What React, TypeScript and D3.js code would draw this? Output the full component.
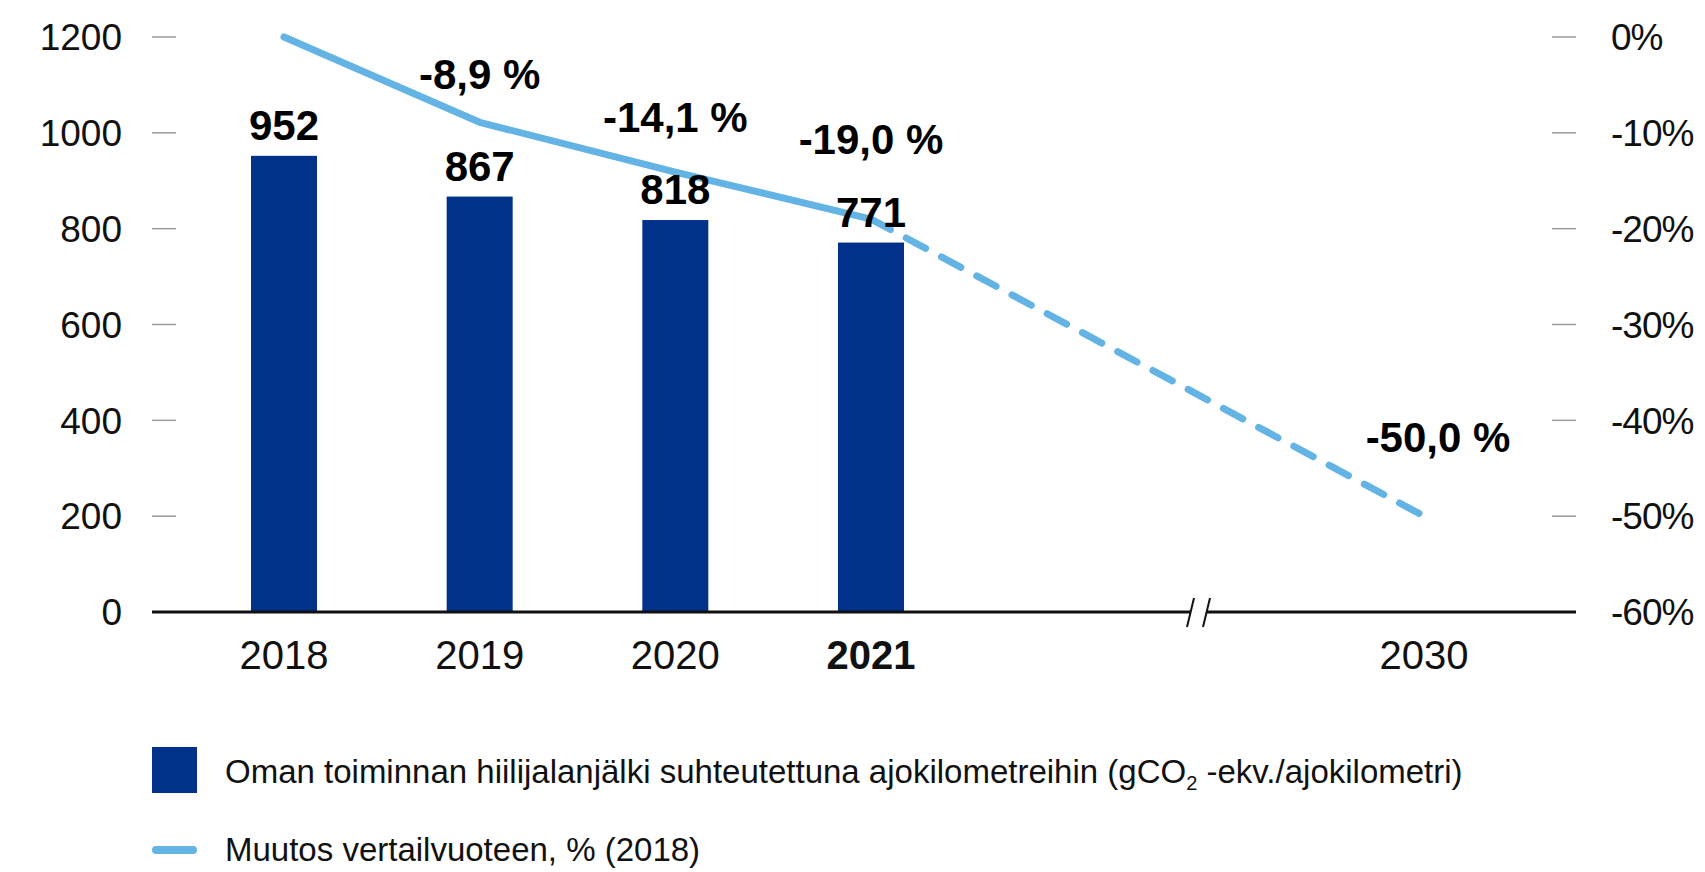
import React from 'react';
import * as d3 from 'd3';

// bars: own-operations carbon footprint per driven km
const barYears = [2018, 2019, 2020, 2021];
const footprint = [952, 867, 818, 771];

// line: change vs. base year 2018 (2030 is the target)
const changeYears = [2018, 2019, 2020, 2021, 2030];
const changePct = [0, -8.9, -14.1, -19.0, -50.0];
const xTickYears = [2018, 2019, 2020, 2021, 2030];

const leftTicks = [0, 200, 400, 600, 800, 1000, 1200];
const rightTicks = [0, -10, -20, -30, -40, -50, -60];

// nudge for the % labels above the line points
const pctLabelDx = [0, 0, 0, 0, 14];
const pctLabelDy = [0, -33, -40, -65, -64];

const BAR = '#02318a';
const LINE = '#63b4e5';
const FONT = '"Liberation Sans", Arial, sans-serif';

const width = 1705;
const height = 872;

const App = () => {
  // piecewise scale: the axis is broken between 2021 and 2030
  const x = d3.scaleLinear().domain([2018, 2021, 2030]).range([284, 871, 1424]);
  const y = d3.scaleLinear().domain([0, 1200]).range([612, 37]);
  const yPct = d3.scaleLinear().domain([-60, 0]).range([612, 37]);
  const barW = 66;

  const pts = changeYears.map((yr, i) => ({ yr, v: changePct[i] }));
  const line = d3.line<{ yr: number; v: number }>().x(d => x(d.yr)).y(d => yPct(d.v));
  const solid = line(pts.slice(0, 4)) || '';
  const dashed = line(pts.slice(3)) || '';

  const fmtPct = (v: number) => `${v.toFixed(1).replace('.', ',')} %`;
  const y0 = y(0);

  return (
    <svg width={width} height={height} style={{ position: 'absolute', left: 0, top: 0, background: '#fff' }} fontFamily={FONT}>
      {/* left axis */}
      {leftTicks.map(t => (
        <g key={'l' + t}>
          {t !== 0 && <line x1={152} x2={176} y1={y(t)} y2={y(t)} stroke="#9a9a9a" strokeWidth={1.5} />}
          <text x={122} y={y(t)} dy="0.36em" textAnchor="end" fontSize={37} fill="#111">{t}</text>
        </g>
      ))}

      {/* right axis */}
      {rightTicks.map(t => (
        <g key={'r' + t}>
          {t !== -60 && <line x1={1552} x2={1576} y1={yPct(t)} y2={yPct(t)} stroke="#9a9a9a" strokeWidth={1.5} />}
          <text x={1611} y={yPct(t)} dy="0.36em" textAnchor="start" fontSize={37} fill="#111" letterSpacing={-1}>{t}%</text>
        </g>
      ))}

      {/* bars */}
      {barYears.map((yr, i) => (
        <rect key={yr} x={x(yr) - barW / 2} y={y(footprint[i])} width={barW} height={y0 - y(footprint[i])} fill={BAR} />
      ))}

      {/* x axis with break */}
      <line x1={152} x2={1191} y1={y0} y2={y0} stroke="#111" strokeWidth={3} />
      <line x1={1207} x2={1576} y1={y0} y2={y0} stroke="#111" strokeWidth={3} />
      <line x1={1187} x2={1194} y1={y0 + 15} y2={y0 - 14} stroke="#111" strokeWidth={2} />
      <line x1={1203} x2={1210} y1={y0 + 15} y2={y0 - 14} stroke="#111" strokeWidth={2} />

      {xTickYears.map(yr => (
        <text key={'x' + yr} x={x(yr)} y={y0 + 57} textAnchor="middle" fontSize={40} fill="#111"
          fontWeight={yr === 2021 ? 'bold' : 'normal'}>{yr}</text>
      ))}

      {/* change line */}
      <path d={solid} fill="none" stroke={LINE} strokeWidth={7} strokeLinecap="round" strokeLinejoin="round" />
      <path d={dashed} fill="none" stroke={LINE} strokeWidth={7} strokeLinecap="round" strokeDasharray="22 18" />

      {/* bar value labels */}
      {barYears.map((yr, i) => (
        <text key={'v' + yr} x={x(yr)} y={y(footprint[i]) - 16} textAnchor="middle" fontSize={42} fontWeight="bold" fill="#000">
          {footprint[i]}
        </text>
      ))}

      {/* % labels */}
      {pts.map((p, i) => i === 0 ? null : (
        <text key={'p' + p.yr} x={x(p.yr) + pctLabelDx[i]} y={yPct(p.v) + pctLabelDy[i]} textAnchor="middle"
          fontSize={42} fontWeight="bold" fill="#000">{fmtPct(p.v)}</text>
      ))}

      {/* legend */}
      <rect x={152} y={747} width={45} height={46} fill={BAR} />
      <text x={225} y={783} fontSize={33} fill="#111">
        Oman toiminnan hiilijalanjälki suhteutettuna ajokilometreihin (gCO
        <tspan fontSize={20} dy={7}>2</tspan>
        <tspan dy={-7}> -ekv./ajokilometri)</tspan>
      </text>
      <line x1={156} x2={193} y1={850} y2={850} stroke={LINE} strokeWidth={8} strokeLinecap="round" />
      <text x={225} y={861} fontSize={33} fill="#111">Muutos vertailvuoteen, % (2018)</text>
    </svg>
  );
};

export default App;
